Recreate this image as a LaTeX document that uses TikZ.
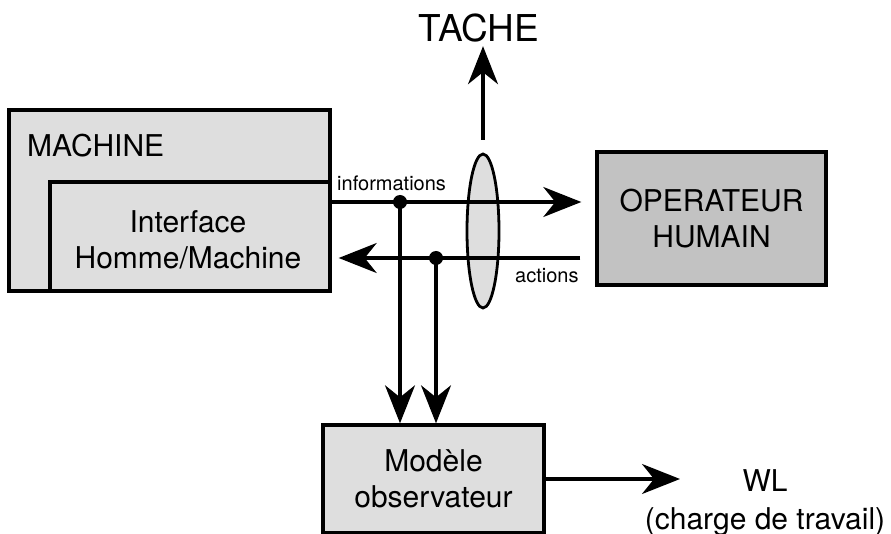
\documentclass[tikz,border=0pt]{standalone}
\usepackage{fontspec}
\setmainfont{TeX Gyre Heros}
\usetikzlibrary{arrows.meta,shapes.geometric}

\definecolor{fondclair}{gray}{0.87}
\definecolor{fondfonce}{gray}{0.76}

\tikzset{
  boite/.style={draw, line width=3.4pt, fill=fondclair, inner sep=0pt},
  fleche/.style={-{Stealth[length=38pt,width=30pt,inset=12pt]}, line width=3.1pt},
  point/.style={circle, fill, inner sep=0pt, minimum size=14pt},
  grand/.style={font=\fontsize{30}{36}\selectfont, align=center},
  petit/.style={font=\fontsize{20}{24}\selectfont, inner sep=0pt}
}

\begin{document}
\begin{tikzpicture}[x=1pt, y=-1pt, line cap=butt, line join=miter]
  \useasboundingbox (0,0) rectangle (891,534);

  % machine et interface
  \node[boite, minimum width=321pt, minimum height=181pt] (machine) at (169.5,200.5) {};
  \node[grand, anchor=base west, inner sep=0pt] (lbl-machine) at (27,157) {MACHINE};
  \node[boite, minimum width=280pt, minimum height=109pt] (interface) at (190,236.5) {};
  \node[grand] (lbl-interface) at (188,240) {Interface\\Homme/Machine};

  % operateur
  \node[boite, fill=fondfonce, grand, minimum width=229pt, minimum height=133pt] (operateur) at (711.5,218.5) {OPERATEUR\\HUMAIN};

  % modele observateur
  \node[boite, grand, minimum width=221pt, minimum height=108pt] (modele) at (433.5,479) {Mod\`ele\\observateur};

  % tache
  \node[boite, ellipse, line width=2.8pt, minimum width=32pt, minimum height=154pt] (lentille) at (483,231) {};
  \node[font=\fontsize{37}{40}\selectfont, anchor=base] (tache) at (479,42) {TACHE};
  \draw[fleche] ([yshift=13pt]lentille.north) -- (lentille.north |- tache.south);

  % informations et actions
  \node[point] (p1) at (400,202) {};
  \node[point] (p2) at (436,258) {};
  \draw[fleche, shorten >=14pt] (interface.east |- p1) -- (operateur.west |- p1);
  \draw[fleche, shorten <=15pt, shorten >=7pt] (operateur.west |- p2) -- (interface.east |- p2);
  \node[petit, anchor=base west] (lbl-info) at (337,191) {informations};
  \node[petit, anchor=base west] (lbl-actions) at (515,283) {actions};

  % vers le modele
  \draw[fleche] (p1.center) -- (p1 |- modele.north);
  \draw[fleche] (p2.center) -- (p2 |- modele.north);

  % charge de travail
  \coordinate (wl-in) at (680,479);
  \draw[fleche] (modele.east) -- (wl-in);
  \node[grand, anchor=base, inner sep=0pt] (wl) at (765,491) {WL};
  \node[grand, anchor=base, inner sep=0pt] (charge) at (765,529) {(charge de travail)};
\end{tikzpicture}
\end{document}
